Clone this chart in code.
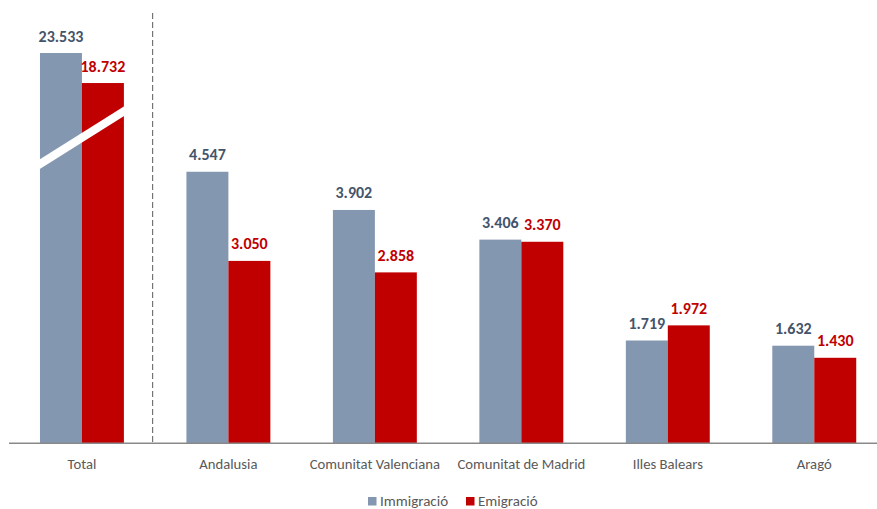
<!DOCTYPE html>
<html>
<head>
<meta charset="utf-8">
<script src="https://cdn.jsdelivr.net/npm/d3@7"></script>
<style>
 body { margin: 0; background: #fff; }
 svg { font-family: Carlito, Calibri, Lato, "Open Sans", sans-serif; }
</style>
</head>
<body>
<div id="chart"></div>
<script>
const categories = ["Total", "Andalusia", "Comunitat Valenciana", "Comunitat de Madrid", "Illes Balears", "Aragó"];
const immigracio = [23533, 4547, 3902, 3406, 1719, 1632];
const emigracio = [18732, 3050, 2858, 3370, 1972, 1430];
const seriesNames = ["Immigració", "Emigració"];

(function () {
 const width = 877;
 const height = 509;
 const baseY = 443.3;
 const colors = ["#8497B0", "#C00000"];
 const labelColors = ["#44546A", "#C00000"];

 const svg = d3
  .select("#chart")
  .append("svg")
  .attr("width", width)
  .attr("height", height);

 const x0 = d3
  .scaleBand()
  .domain(categories)
  .range([8.7, 887.5])
  .paddingInner(0.427)
  .paddingOuter(0.2135);

 const x1 = d3
  .scaleBand()
  .domain(seriesNames)
  .range([0, x0.bandwidth()]);

 // broken axis: values above the break are compressed so Total fits
 const breakAt = 4540;
 const pxPerUnit = 0.0598;
 const y = d3
  .scaleLinear()
  .domain([0, breakAt, 23533])
  .range([baseY, baseY - breakAt * pxPerUnit, 53]);

 const rows = categories.map((c, i) => ({
  cat: c,
  vals: [immigracio[i], emigracio[i]],
 }));

 const groups = svg
  .selectAll(".grp")
  .data(rows)
  .enter()
  .append("g")
  .attr("class", "grp")
  .attr("transform", (d) => `translate(${x0(d.cat)},0)`);

 groups
  .selectAll("rect")
  .data((d) => d.vals.map((v, j) => ({ v, j })))
  .enter()
  .append("rect")
  .attr("x", (d) => x1(seriesNames[d.j]))
  .attr("width", x1.bandwidth())
  .attr("y", (d) => y(d.v))
  .attr("height", (d) => baseY - y(d.v))
  .attr("fill", (d) => colors[d.j]);

 const fmt = (v) => d3.format(",")(v).replace(/,/g, ".");

 groups
  .selectAll("text.val")
  .data((d) => d.vals.map((v, j) => ({ v, j })))
  .enter()
  .append("text")
  .attr("class", "val")
  .attr("x", (d) => x1(seriesNames[d.j]) + x1.bandwidth() / 2)
  .attr("y", (d) => y(d.v) - 11.5)
  .attr("text-anchor", "middle")
  .attr("font-size", "16px")
  .attr("font-weight", "bold")
  .attr("fill", (d) => labelColors[d.j])
  .text((d) => fmt(d.v));

 // break mark over the Total bars
 const tx = x0("Total");
 svg
  .append("line")
  .attr("x1", tx - 11)
  .attr("y1", 171)
  .attr("x2", tx + x0.bandwidth() + 10)
  .attr("y2", 105)
  .attr("stroke", "#fff")
  .attr("stroke-width", 8);

 // axis line
 svg
  .append("line")
  .attr("x1", 9)
  .attr("x2", width)
  .attr("y1", baseY)
  .attr("y2", baseY)
  .attr("stroke", "#898989")
  .attr("stroke-width", 1.5);

 // dashed separator between Total and regions
 const sepX = (x0("Total") + x0.bandwidth() + x0("Andalusia")) / 2 - 2.5;
 svg
  .append("line")
  .attr("x1", sepX)
  .attr("x2", sepX)
  .attr("y1", 13)
  .attr("y2", baseY)
  .attr("stroke", "#595959")
  .attr("stroke-width", 1)
  .attr("stroke-dasharray", "6,3");

 // category labels
 svg
  .selectAll(".cat")
  .data(categories)
  .enter()
  .append("text")
  .attr("class", "cat")
  .attr("x", (d) => x0(d) + x0.bandwidth() / 2)
  .attr("y", 468.5)
  .attr("text-anchor", "middle")
  .attr("font-size", "14.7px")
  .attr("fill", "#595959")
  .text((d) => d);

 // legend
 const legend = svg.append("g").attr("transform", "translate(368,497)");
 const lx = [0, 98];
 seriesNames.forEach((s, i) => {
  legend
   .append("rect")
   .attr("x", lx[i])
   .attr("y", 0)
   .attr("width", 8.5)
   .attr("height", 8.5)
   .attr("fill", colors[i]);
  legend
   .append("text")
   .attr("x", lx[i] + 12)
   .attr("y", 9)
   .attr("font-size", "15px")
   .attr("fill", "#595959")
   .text(s);
 });
})();
</script>
</body>
</html>
